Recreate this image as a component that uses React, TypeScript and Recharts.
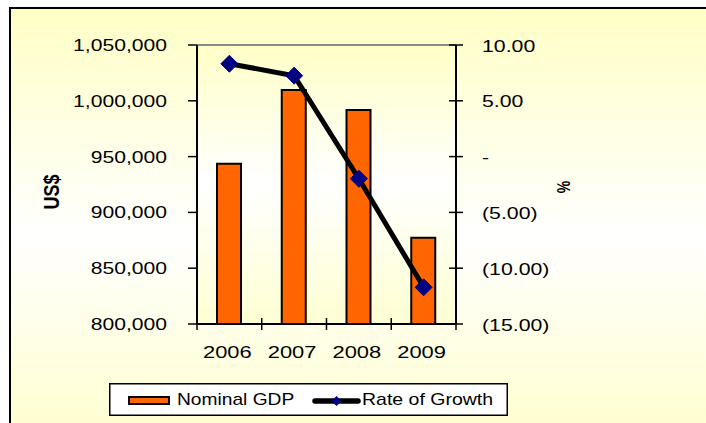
import React from 'react';
import { ComposedChart, Bar, Line, XAxis, YAxis, CartesianGrid, ReferenceLine, Legend } from 'recharts';

const years = ['2006', '2007', '2008', '2009'];
const nominalGdp = [943600, 1009700, 991800, 877300];
const growthRate = [8.32, 7.25, -1.98, -11.71];
const gdpTicks = [800000, 850000, 900000, 950000, 1000000, 1050000];
const rateTicks = [-15, -10, -5, 0, 5, 10];
const seriesNames = ['Nominal GDP', 'Rate of Growth'];
const leftTitle = 'US$';
const rightTitle = '%';

const data = years.map((y, i) => ({ year: y, gdp: nominalGdp[i], growth: growthRate[i] }));

const FONT = "'Liberation Sans', Arial, sans-serif";
const W = 706;
const H = 423;
const PLOT_L = 197;
const PLOT_R = 456;
const PLOT_T = 45;
const PLOT_B = 324;
const BAND = (PLOT_R - PLOT_L) / years.length;
const LEFT_W = PLOT_L;
const RIGHT_W = 100;

const fmtGdp = (v: number) => v.toLocaleString('en-US');
const fmtRate = (v: number) => (v === 0 ? '-' : v < 0 ? `(${Math.abs(v).toFixed(2)})` : v.toFixed(2));

const LeftTick = (p: any) => (
  <g>
    <line x1={p.x - 9} x2={p.x} y1={p.y} y2={p.y} stroke="#000" strokeWidth={1.5} />
    <text
      transform={`translate(${p.x - 30},${p.y + 6}) scale(1.32,1)`}
      textAnchor="end"
      fontSize={16}
      fontFamily={FONT}
      fill="#000"
    >
      {fmtGdp(p.payload.value)}
    </text>
  </g>
);

const RightTick = (p: any) => (
  <g>
    <line x1={p.x - 7} x2={p.x + 7} y1={p.y} y2={p.y} stroke="#000" strokeWidth={1.5} />
    <text
      transform={`translate(${p.x + 26},${p.y + 6.5}) scale(1.33,1)`}
      textAnchor="start"
      fontSize={16}
      fontFamily={FONT}
      fill="#000"
    >
      {fmtRate(p.payload.value)}
    </text>
  </g>
);

const BottomTick = (p: any) => {
  const last = p.payload.value === years[years.length - 1];
  return (
    <g>
      <line x1={p.x - BAND / 2} x2={p.x - BAND / 2} y1={p.y - 6} y2={p.y + 6} stroke="#000" strokeWidth={1.5} />
      {last && <line x1={p.x + BAND / 2} x2={p.x + BAND / 2} y1={p.y - 6} y2={p.y + 6} stroke="#000" strokeWidth={1.5} />}
      <text
        transform={`translate(${p.x - 2},${p.y + 34}) scale(1.37,1)`}
        textAnchor="middle"
        fontSize={16}
        fontFamily={FONT}
        fill="#000"
      >
        {p.payload.value}
      </text>
    </g>
  );
};

const Diamond = (p: any) => {
  const { cx, cy, index } = p;
  if (cx == null || cy == null) return <g key={`d-${index}`} />;
  const r = 8.5;
  return (
    <polygon
      key={`d-${index}`}
      points={`${cx},${cy - r} ${cx + r},${cy} ${cx},${cy + r} ${cx - r},${cy}`}
      fill="#000080"
      stroke="#000080"
      strokeWidth={1}
    />
  );
};

const LegendBox = () => (
  <svg width={399} height={33} style={{ display: 'block' }}>
    <rect x={0.75} y={0.75} width={397.5} height={31.5} fill="#fff" stroke="#000" strokeWidth={1.5} />
    <rect x={20} y={14} width={40} height={7} fill="#FF6600" stroke="#000" strokeWidth={2} />
    <text transform="translate(68,22) scale(1.2,1)" fontSize={16} fontFamily={FONT} fill="#000">
      {seriesNames[0]}
    </text>
    <line x1={206} x2={249} y1={18} y2={18} stroke="#000" strokeWidth={5.5} strokeLinecap="round" />
    <polygon points="227.5,13 232.5,18 227.5,23 222.5,18" fill="#000080" />
    <text transform="translate(253,22) scale(1.22,1)" fontSize={16} fontFamily={FONT} fill="#000">
      {seriesNames[1]}
    </text>
  </svg>
);

export default function App() {
  return (
    <div style={{ position: 'absolute', left: 0, top: 0, width: W, height: H, overflow: 'hidden', background: '#fff' }}>
      <div
        style={{
          position: 'absolute',
          left: 9,
          top: 7,
          width: 760,
          height: 440,
          boxSizing: 'border-box',
          borderLeft: '2px solid #000',
          borderTop: '2px solid #000',
          background: 'linear-gradient(to bottom, #FFFFC6 0%, #FFFFFF 52%, #FFFFCC 100%)',
        }}
      />
      <div style={{ position: 'absolute', left: 0, top: 0 }}>
        <ComposedChart
          width={W}
          height={H}
          data={data}
          margin={{ top: PLOT_T, right: W - PLOT_R - RIGHT_W, left: 0, bottom: H - PLOT_B - 30 }}
        >
          <defs>
            <linearGradient id="plotBg" x1="0" y1="0" x2="0" y2="1">
              <stop offset="0%" stopColor="#FFFFC8" />
              <stop offset="50%" stopColor="#FFFFFF" />
              <stop offset="100%" stopColor="#FFFFD2" />
            </linearGradient>
          </defs>
          <CartesianGrid yAxisId="left" fill="url(#plotBg)" fillOpacity={1} horizontal={false} vertical={false} />
          <XAxis
            dataKey="year"
            height={30}
            interval={0}
            tickSize={0}
            tickMargin={0}
            tickLine={false}
            axisLine={{ stroke: '#000', strokeWidth: 2 }}
            tick={BottomTick}
          />
          <YAxis
            yAxisId="left"
            orientation="left"
            width={LEFT_W}
            domain={[800000, 1050000]}
            ticks={gdpTicks}
            interval={0}
            tickSize={0}
            tickMargin={0}
            tickLine={false}
            axisLine={{ stroke: '#000', strokeWidth: 2 }}
            tick={LeftTick}
            label={{
              content: () => (
                <text
                  transform="translate(51,192) rotate(-90) scale(1,1.2)"
                  textAnchor="middle"
                  dominantBaseline="central"
                  fontSize={18}
                  fontWeight="bold"
                  fontFamily={FONT}
                  fill="#000"
                >
                  {leftTitle}
                </text>
              ),
            }}
          />
          <YAxis
            yAxisId="right"
            orientation="right"
            width={RIGHT_W}
            domain={[-15, 10]}
            ticks={rateTicks}
            interval={0}
            tickSize={0}
            tickMargin={0}
            tickLine={false}
            axisLine={{ stroke: '#000', strokeWidth: 2 }}
            tick={RightTick}
            label={{
              content: () => (
                <text
                  transform="translate(564,187) rotate(-90) scale(1,1.35)"
                  textAnchor="middle"
                  dominantBaseline="central"
                  fontSize={14}
                  fontWeight="bold"
                  fontFamily={FONT}
                  fill="#000"
                >
                  {rightTitle}
                </text>
              ),
            }}
          />
          <ReferenceLine yAxisId="left" y={1050000} stroke="#888" strokeWidth={2} />
          <Bar
            yAxisId="left"
            dataKey="gdp"
            name={seriesNames[0]}
            fill="#FF6600"
            stroke="#000"
            strokeWidth={2}
            barSize={24}
            isAnimationActive={false}
          />
          <Line
            yAxisId="right"
            dataKey="growth"
            name={seriesNames[1]}
            type="linear"
            stroke="#000"
            strokeWidth={5}
            dot={Diamond}
            activeDot={false}
            isAnimationActive={false}
          />
          <Legend
            layout="vertical"
            align="center"
            verticalAlign="middle"
            wrapperStyle={{ left: 109, top: 383, width: 399, height: 33 }}
            content={() => <LegendBox />}
          />
        </ComposedChart>
      </div>
    </div>
  );
}
